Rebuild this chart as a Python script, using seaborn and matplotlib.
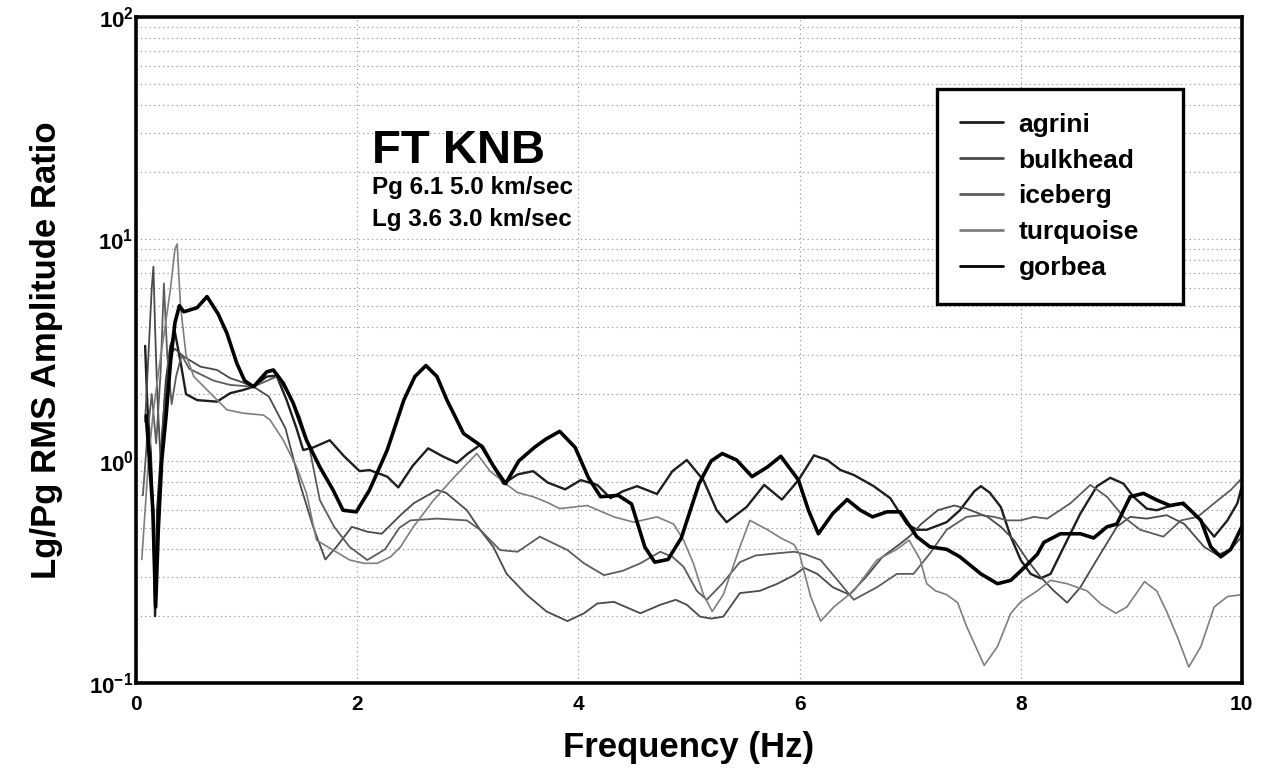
import matplotlib
matplotlib.use("Agg")
import matplotlib.pyplot as plt
import pandas as pd
import seaborn as sns
from matplotlib.ticker import FixedLocator, FixedFormatter, LogLocator, NullFormatter

# Lg/Pg spectral ratios recorded at KNB for five events
agrini_hz = [0.08, 0.10, 0.13, 0.155, 0.17, 0.19, 0.21, 0.24, 0.27, 0.31,
             0.35, 0.40, 0.45, 0.55, 0.73, 0.85, 0.97, 1.06, 1.18, 1.27,
             1.36, 1.45, 1.51, 1.60, 1.75, 1.88, 2.02, 2.11, 2.27, 2.37,
             2.50, 2.64, 2.77, 2.90, 3.00, 3.11, 3.20, 3.32, 3.45, 3.59,
             3.72, 3.88, 4.02, 4.17, 4.29, 4.40, 4.53, 4.71, 4.85, 4.98,
             5.13, 5.25, 5.34, 5.52, 5.68, 5.84, 5.99, 6.13, 6.25, 6.37,
             6.49, 6.67, 6.82, 6.97, 7.06, 7.15, 7.33, 7.45, 7.58, 7.64,
             7.72, 7.82, 7.91, 8.00, 8.09, 8.18, 8.27, 8.39, 8.54, 8.69,
             8.81, 8.93, 9.02, 9.14, 9.23, 9.32, 9.45, 9.54, 9.63, 9.75,
             9.87, 9.96, 10.0]
agrini_ratio = [3.3, 1.8, 1.1, 0.55, 0.2, 0.6, 0.85, 1.4, 2.3, 3.3,
                3.8, 2.8, 2.0, 1.88, 1.85, 2.02, 2.09, 2.16, 2.40, 2.42,
                1.88, 1.40, 1.12, 1.15, 1.24, 1.05, 0.90, 0.91, 0.85, 0.76,
                0.95, 1.14, 1.05, 0.98, 1.08, 1.18, 1.00, 0.79, 0.87, 0.90,
                0.80, 0.745, 0.82, 0.78, 0.68, 0.73, 0.77, 0.71, 0.90, 1.01,
                0.82, 0.60, 0.53, 0.62, 0.78, 0.67, 0.82, 1.06, 1.01, 0.91,
                0.865, 0.77, 0.68, 0.52, 0.49, 0.49, 0.53, 0.60, 0.73, 0.77,
                0.72, 0.62, 0.456, 0.358, 0.31, 0.296, 0.31, 0.41, 0.58, 0.77,
                0.84, 0.79, 0.69, 0.61, 0.60, 0.62, 0.645, 0.60, 0.54, 0.456,
                0.54, 0.645, 0.77]

bulkhead_hz = [0.08, 0.11, 0.14, 0.155, 0.17, 0.19, 0.22, 0.26, 0.30, 0.35,
               0.43, 0.58, 0.73, 0.85, 0.94, 1.06, 1.20, 1.35, 1.48, 1.60,
               1.71, 1.81, 1.95, 2.09, 2.22, 2.39, 2.51, 2.72, 2.80, 2.99,
               3.11, 3.23, 3.35, 3.53, 3.71, 3.90, 4.05, 4.17, 4.32, 4.56,
               4.74, 4.88, 4.98, 5.10, 5.20, 5.31, 5.46, 5.64, 5.80, 5.95,
               6.04, 6.16, 6.30, 6.45, 6.60, 6.75, 6.90, 7.00, 7.10, 7.25,
               7.40, 7.51, 7.70, 7.82, 7.94, 8.06, 8.18, 8.30, 8.42, 8.54,
               8.69, 8.87, 8.99, 9.14, 9.32, 9.48, 9.66, 9.78, 9.90, 10.0]
bulkhead_ratio = [1.5, 3.0, 6.0, 7.5, 4.0, 2.0, 1.0, 2.0, 3.0, 3.2,
                  2.95, 2.66, 2.57, 2.36, 2.28, 2.16, 1.95, 1.40, 0.79, 0.505,
                  0.36, 0.41, 0.505, 0.48, 0.47, 0.57, 0.645, 0.74, 0.72, 0.60,
                  0.49, 0.41, 0.31, 0.25, 0.21, 0.19, 0.206, 0.228, 0.232, 0.206,
                  0.225, 0.237, 0.225, 0.199, 0.195, 0.199, 0.254, 0.26, 0.28, 0.306,
                  0.33, 0.31, 0.27, 0.25, 0.30, 0.37, 0.42, 0.46, 0.52, 0.60,
                  0.63, 0.61, 0.56, 0.505, 0.44, 0.358, 0.30, 0.26, 0.23, 0.27,
                  0.36, 0.505, 0.56, 0.55, 0.57, 0.52, 0.41, 0.377, 0.40, 0.456]

iceberg_hz = [0.06, 0.10, 0.14, 0.18, 0.22, 0.25, 0.28, 0.32, 0.36, 0.41,
              0.48, 0.55, 0.70, 0.85, 1.06, 1.27, 1.38, 1.48, 1.57, 1.66,
              1.79, 1.93, 2.09, 2.25, 2.38, 2.48, 2.72, 2.99, 3.11, 3.29,
              3.45, 3.65, 3.90, 4.05, 4.23, 4.40, 4.56, 4.74, 4.85, 4.95,
              5.07, 5.16, 5.30, 5.46, 5.60, 5.80, 5.95, 6.05, 6.19, 6.37,
              6.49, 6.70, 6.88, 7.03, 7.18, 7.33, 7.51, 7.64, 7.76, 7.88,
              8.00, 8.12, 8.24, 8.45, 8.63, 8.78, 8.93, 9.08, 9.29, 9.45,
              9.60, 9.75, 9.90, 10.0]
iceberg_ratio = [0.7, 1.3, 2.0, 1.2, 2.5, 6.3, 3.0, 1.8, 2.4, 3.0,
                 2.6, 2.5, 2.3, 2.2, 2.16, 2.4, 2.0, 1.58, 1.12, 0.667,
                 0.505, 0.41, 0.358, 0.40, 0.50, 0.54, 0.55, 0.54, 0.49, 0.397,
                 0.39, 0.456, 0.397, 0.346, 0.306, 0.32, 0.346, 0.39, 0.37, 0.334,
                 0.26, 0.237, 0.28, 0.35, 0.375, 0.384, 0.39, 0.38, 0.358, 0.28,
                 0.237, 0.27, 0.31, 0.31, 0.384, 0.49, 0.56, 0.57, 0.56, 0.54,
                 0.54, 0.56, 0.55, 0.645, 0.78, 0.69, 0.56, 0.49, 0.456, 0.54,
                 0.56, 0.645, 0.74, 0.835]

turquoise_hz = [0.05, 0.08, 0.11, 0.15, 0.20, 0.26, 0.31, 0.35, 0.37, 0.40,
                0.45, 0.52, 0.67, 0.82, 0.97, 1.15, 1.21, 1.33, 1.45, 1.54,
                1.63, 1.78, 1.93, 2.06, 2.18, 2.30, 2.39, 2.50, 2.69, 2.88,
                3.08, 3.20, 3.34, 3.45, 3.59, 3.72, 3.83, 4.08, 4.32, 4.50,
                4.71, 4.86, 4.95, 5.04, 5.13, 5.21, 5.31, 5.46, 5.55, 5.71,
                5.83, 5.95, 6.00, 6.10, 6.19, 6.31, 6.49, 6.70, 6.88, 6.99,
                7.09, 7.15, 7.23, 7.33, 7.43, 7.51, 7.67, 7.79, 7.91, 8.00,
                8.15, 8.27, 8.42, 8.60, 8.72, 8.86, 8.96, 9.12, 9.23, 9.32,
                9.42, 9.52, 9.63, 9.75, 9.87, 10.0]
turquoise_ratio = [0.36, 0.6, 1.0, 1.6, 2.5, 4.0, 6.0, 9.0, 9.5, 5.0,
                   3.0, 2.4, 2.02, 1.70, 1.64, 1.61, 1.53, 1.24, 0.94, 0.715,
                   0.44, 0.397, 0.358, 0.346, 0.346, 0.37, 0.41, 0.50, 0.667, 0.85,
                   1.08, 0.90, 0.79, 0.72, 0.69, 0.65, 0.61, 0.63, 0.56, 0.53,
                   0.56, 0.52, 0.44, 0.345, 0.25, 0.21, 0.25, 0.41, 0.54, 0.49,
                   0.45, 0.42, 0.38, 0.245, 0.19, 0.22, 0.26, 0.358, 0.40, 0.44,
                   0.36, 0.28, 0.26, 0.25, 0.23, 0.18, 0.12, 0.146, 0.206, 0.232,
                   0.26, 0.29, 0.28, 0.26, 0.228, 0.206, 0.22, 0.286, 0.26, 0.21,
                   0.16, 0.118, 0.146, 0.22, 0.245, 0.25]

gorbea_hz = [0.09, 0.12, 0.15, 0.175, 0.20, 0.23, 0.27, 0.31, 0.35, 0.39,
             0.43, 0.55, 0.64, 0.74, 0.82, 0.91, 0.98, 1.06, 1.18, 1.24,
             1.33, 1.42, 1.54, 1.66, 1.78, 1.87, 1.99, 2.11, 2.27, 2.42,
             2.52, 2.62, 2.72, 2.81, 2.96, 3.13, 3.23, 3.34, 3.46, 3.60,
             3.70, 3.83, 3.97, 4.09, 4.20, 4.36, 4.48, 4.60, 4.69, 4.81,
             4.93, 5.09, 5.20, 5.30, 5.43, 5.57, 5.71, 5.83, 5.99, 6.08,
             6.17, 6.30, 6.43, 6.55, 6.66, 6.79, 6.91, 7.06, 7.18, 7.33,
             7.45, 7.64, 7.79, 7.91, 8.03, 8.15, 8.21, 8.36, 8.54, 8.66,
             8.78, 8.87, 8.99, 9.11, 9.23, 9.35, 9.47, 9.63, 9.72, 9.81,
             9.90, 10.0]
gorbea_ratio = [1.6, 1.0, 0.6, 0.22, 0.5, 1.0, 1.6, 2.8, 4.2, 5.0,
                4.7, 4.9, 5.5, 4.6, 3.76, 2.75, 2.3, 2.16, 2.52, 2.57,
                2.24, 1.82, 1.24, 0.94, 0.74, 0.60, 0.59, 0.74, 1.12, 1.88,
                2.4, 2.69, 2.4, 1.88, 1.33, 1.16, 0.95, 0.79, 1.0, 1.15,
                1.25, 1.36, 1.15, 0.84, 0.69, 0.70, 0.64, 0.41, 0.35, 0.36,
                0.45, 0.79, 1.0, 1.08, 1.01, 0.85, 0.94, 1.05, 0.82, 0.60,
                0.47, 0.58, 0.67, 0.60, 0.56, 0.59, 0.59, 0.456, 0.41, 0.40,
                0.37, 0.31, 0.28, 0.29, 0.33, 0.38, 0.43, 0.47, 0.47, 0.45,
                0.505, 0.52, 0.69, 0.715, 0.667, 0.63, 0.645, 0.54, 0.41, 0.37,
                0.40, 0.505]

events = ["agrini", "bulkhead", "iceberg", "turquoise", "gorbea"]
series = {
    "agrini": (agrini_hz, agrini_ratio),
    "bulkhead": (bulkhead_hz, bulkhead_ratio),
    "iceberg": (iceberg_hz, iceberg_ratio),
    "turquoise": (turquoise_hz, turquoise_ratio),
    "gorbea": (gorbea_hz, gorbea_ratio),
}
line_color = {"agrini": "#1e1e1e", "bulkhead": "#4a4a4a", "iceberg": "#5c5c5c",
              "turquoise": "#7e7e7e", "gorbea": "#000000"}
line_width = {"agrini": 1.7, "bulkhead": 1.3, "iceberg": 1.3,
              "turquoise": 1.2, "gorbea": 2.6}

y_ticks = [0.1, 1, 10, 100]
y_tick_labels = [r"$\mathbf{10^{-1}}$", r"$\mathbf{10^{0}}$",
                 r"$\mathbf{10^{1}}$", r"$\mathbf{10^{2}}$"]
x_ticks = [0, 2, 4, 6, 8, 10]

frames = []
for name in events:
    hz, ratio = series[name]
    assert len(hz) == len(ratio), name
    frames.append(pd.DataFrame({"Frequency": hz, "Ratio": ratio, "Event": name}))
df = pd.concat(frames, ignore_index=True)

sns.set_style("white")
plt.rcParams["font.family"] = ["Liberation Sans", "DejaVu Sans"]
plt.rcParams["font.weight"] = "bold"
plt.rcParams["text.color"] = "black"
plt.rcParams["axes.labelcolor"] = "black"
plt.rcParams["xtick.color"] = "black"
plt.rcParams["ytick.color"] = "black"
plt.rcParams["mathtext.fontset"] = "custom"
plt.rcParams["mathtext.rm"] = "Liberation Sans:bold"
plt.rcParams["mathtext.bf"] = "Liberation Sans:bold"
plt.rcParams["mathtext.it"] = "Liberation Sans:bold"

fig = plt.figure(figsize=(12.7, 7.74), dpi=100)
ax = fig.add_axes([0.1073, 0.1176, 0.8705, 0.8605])

for name in events:
    sub = df[df["Event"] == name]
    sns.lineplot(data=sub, x="Frequency", y="Ratio", ax=ax, sort=False,
                 estimator=None, color=line_color[name],
                 linewidth=line_width[name], label=name)

ax.set_yscale("log")
ax.set_xlim(0, 10)
ax.set_ylim(0.1, 100)

ax.yaxis.set_major_locator(FixedLocator(y_ticks))
ax.yaxis.set_major_formatter(FixedFormatter(y_tick_labels))
ax.yaxis.set_minor_locator(LogLocator(base=10, subs=range(2, 10)))
ax.yaxis.set_minor_formatter(NullFormatter())
ax.set_xticks(x_ticks)
ax.set_xticklabels([str(t) for t in x_ticks])

dot = (0, (1, 3))
ax.grid(True, which="both", axis="y", linestyle=dot, color="#8c8c8c", linewidth=0.8)
ax.grid(True, which="major", axis="x", linestyle=dot, color="#8c8c8c", linewidth=0.8)

ax.tick_params(axis="x", which="major", labelsize=15, direction="in",
               length=4, width=1.2, pad=9)
ax.tick_params(axis="y", which="major", labelsize=16, direction="in",
               length=4, width=1.2, pad=2)
ax.tick_params(axis="y", which="minor", length=0)
for lab in ax.get_xticklabels():
    lab.set_fontweight("bold")

for side in ax.spines.values():
    side.set_visible(True)
    side.set_linewidth(2.6)
    side.set_color("black")

ax.set_xlabel("Frequency (Hz)", fontsize=25, fontweight="bold", labelpad=12)
ax.set_ylabel("Lg/Pg RMS Amplitude Ratio", fontsize=25, fontweight="bold", labelpad=19)

ax.text(0.213, 0.781, "FT KNB", transform=ax.transAxes, fontsize=34,
        fontweight="bold", va="baseline", ha="left")
ax.text(0.213, 0.734, "Pg 6.1 5.0 km/sec", transform=ax.transAxes, fontsize=17.5,
        fontweight="bold", va="baseline", ha="left")
ax.text(0.213, 0.686, "Lg 3.6 3.0 km/sec", transform=ax.transAxes, fontsize=17.5,
        fontweight="bold", va="baseline", ha="left")

leg = ax.legend(loc="upper left", bbox_to_anchor=(0.724, 0.568, 0.223, 0.324),
                mode="expand", frameon=True, fancybox=False, framealpha=1,
                edgecolor="black", prop={"size": 19, "weight": "bold"},
                handlelength=1.6, handletextpad=0.6, labelspacing=0.45,
                borderpad=0.9, borderaxespad=0)
leg.get_frame().set_linewidth(2.4)
for h in leg.get_lines():
    h.set_linewidth(2.0)

fig.savefig("out.png", dpi=100)
